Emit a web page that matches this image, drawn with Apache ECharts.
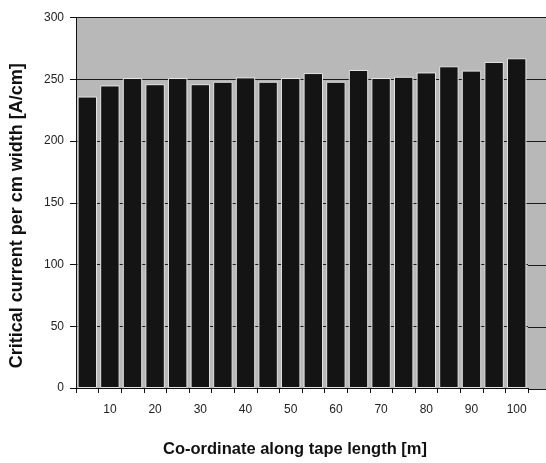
<!DOCTYPE html>
<html>
<head>
<meta charset="utf-8">
<script src="https://cdn.jsdelivr.net/npm/echarts@6/dist/echarts.min.js"></script>
<style>
  html,body{margin:0;padding:0;background:#fff;}
  #chart{width:546px;height:463px;}
</style>
</head>
<body>
<div id="chart"></div>
<script>
// positions along the tape [m], one bar every 5 m
const positions = [5,10,15,20,25,30,35,40,45,50,55,60,65,70,75,80,85,90,95,100]
// critical current per cm width [A/cm]
const currents = [236,245,251,246,251,246,248,251.5,248,251,255,248,257.5,251,252,255.5,260.5,257,264,267]
const yTicks = {min:0, max:300, step:50}

const chart = echarts.init(document.getElementById('chart'))
const font = 'Liberation Sans, Arial, sans-serif'
const plotBg = '#b8b8b8'
const gridPos = {top:17.5, bottom:74}

const option = {
  animation:false,
  grid:[
    {left:76, right:18, ...gridPos, show:true, backgroundColor:plotBg, borderWidth:0},
    // grey plot area keeps going past the last tick, like the scan
    {left:528, right:0, ...gridPos, show:true, backgroundColor:plotBg, borderWidth:0}
  ],
  xAxis:[{
    type:'category',
    data:positions,
    gridIndex:0,
    name:'Co-ordinate along tape length [m]',
    nameLocation:'middle',
    nameGap:53,
    nameTextStyle:{fontFamily:font, fontWeight:'bold', fontSize:16.5, color:'#111', padding:[0,14,0,0]},
    axisLine:{lineStyle:{color:'#111', width:1}},
    axisTick:{show:true, interval:0, length:5, lineStyle:{color:'#111'}},
    axisLabel:{
      interval:(i)=> i % 2 === 1,
      margin:16,
      fontFamily:font,
      fontSize:12,
      color:'#222'
    },
    splitLine:{show:false}
  },{
    type:'value', gridIndex:1, min:0, max:1, show:false
  }],
  yAxis:[{
    type:'value',
    gridIndex:0,
    min:yTicks.min,
    max:yTicks.max,
    interval:yTicks.step,
    name:'Critical current per cm width [A/cm]',
    nameLocation:'middle',
    nameGap:50,
    // extra right padding nudges the rotated title downwards, as in the scan
    nameTextStyle:{fontFamily:font, fontWeight:'bold', fontSize:18, color:'#111', padding:[0,26,0,0]},
    axisLine:{show:true, lineStyle:{color:'#111', width:1}},
    axisTick:{show:true, length:6, lineStyle:{color:'#111'}},
    axisLabel:{margin:12, fontFamily:font, fontSize:12, color:'#222'},
    splitLine:{lineStyle:{color:'#1a1a1a', width:1}}
  },{
    type:'value',
    gridIndex:1,
    min:yTicks.min,
    max:yTicks.max,
    interval:yTicks.step,
    axisLine:{show:false},
    axisTick:{show:false},
    axisLabel:{show:false},
    splitLine:{lineStyle:{color:'#1a1a1a', width:1}}
  }],
  series:[{
    type:'bar',
    xAxisIndex:0,
    yAxisIndex:0,
    data:currents,
    barCategoryGap:'14%',
    itemStyle:{color:'#141414', borderColor:'#e4e4e4', borderWidth:1}
  }]
}
chart.setOption(option)
</script>
</body>
</html>
